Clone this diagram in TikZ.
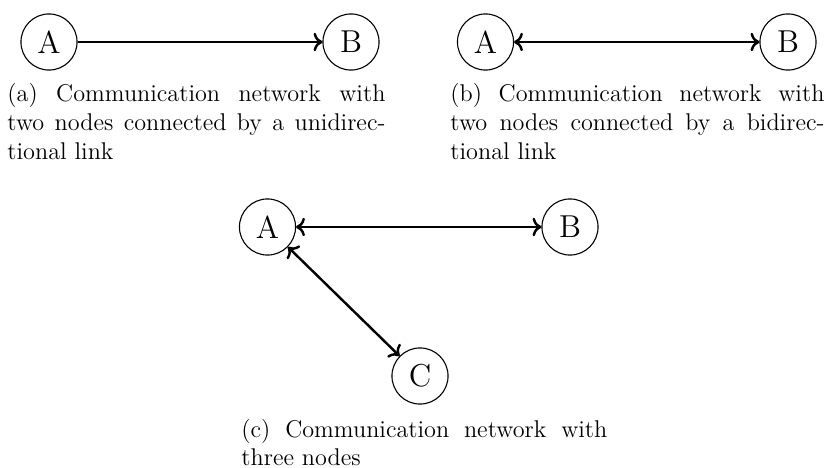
\documentclass[tikz,border=0pt]{standalone}
\usetikzlibrary{arrows.meta}
\begin{document}
\begin{tikzpicture}[x=0.4545pt,y=-0.4545pt,
  netnode/.style={draw,circle,line width=0.5pt,minimum size=25.5pt,inner sep=0pt,font=\Large},
  link/.style={line width=1.1pt},
  capt/.style={anchor=north west,inner sep=0pt,align=justify,font=\fontsize{11}{13}\selectfont}]
\useasboundingbox (0,0) rectangle (828,468);
% (a)
\node[netnode] (aA) at (49,42) {A};
\node[netnode] (aB) at (351,42) {B};
\draw[link,->] (aA) -- (aB);
\node[capt,text width=171.8pt] (capa) at (7,83.3) {(a) Communication network with\linebreak two nodes connected by a unidirec-\linebreak tional link};
% (b)
\node[netnode] (bA) at (485.5,42) {A};
\node[netnode] (bB) at (788,42) {B};
\draw[link,<->] (bA) -- (bB);
\node[capt,text width=170pt] (capb) at (450,83.3) {(b) Communication network with\linebreak two nodes connected by a bidirec-\linebreak tional link};
% (c)
\node[netnode] (cA) at (267.5,227) {A};
\node[netnode] (cB) at (570,227) {B};
\node[netnode] (cC) at (420,376) {C};
\draw[link,<->] (cA) -- (cB);
\draw[link,<->] (cA) -- (cC);
\node[capt,text width=166.3pt] (capc) at (241,418.8) {(c) Communication network with\linebreak three nodes};
\end{tikzpicture}
\end{document}
